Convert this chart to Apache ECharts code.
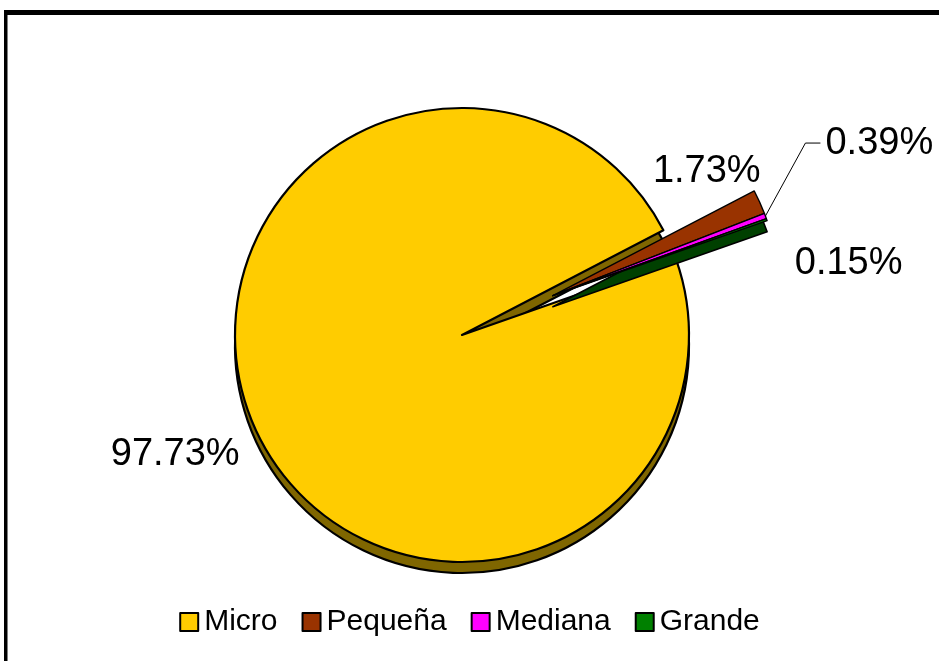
<!DOCTYPE html>
<html>
<head>
<meta charset="utf-8">
<script src="https://cdn.jsdelivr.net/npm/echarts@6/dist/echarts.min.js"></script>
<style>html,body{margin:0;padding:0;background:#fff;}#c{width:939px;height:661px;}</style>
</head>
<body>
<div id="c"></div>
<script>
// ---- data ----
const categories = ['Micro', 'Pequeña', 'Mediana', 'Grande'];
const shares = [97.73, 1.73, 0.39, 0.15];
const explodedFlags = [false, true, true, true];

// ---- styles ----
const topColors = ['#FFCC00', '#993300', '#FF00FF', '#008000'];
const sideColors = ['#7F6600', '#4C1900', '#800080', '#004000'];
const FONT = "'Liberation Sans', Arial, sans-serif";
const cx = 462, cy = 335, R = 227, depth = 11, explodeDist = 99;
const startAngle = 19.3;
// label offsets relative to the default label position [dx, dy, align, leaderLine]
const labelAdjust = [
  [-9, 29, 'right', false],
  [-4, -31, 'right', false],
  [55, -73, 'left', true],
  [23, 44, 'left', false]
];

const total = shares.reduce((a, b) => a + b, 0);
const explodedTotal = shares.reduce((a, v, i) => a + (explodedFlags[i] ? v : 0), 0);
const midDeg = startAngle + explodedTotal / total * 180;
const ecx = cx + explodeDist * Math.cos(midDeg * Math.PI / 180);
const ecy = cy - explodeDist * Math.sin(midDeg * Math.PI / 180);
const hidden = { color: 'rgba(0,0,0,0)', borderWidth: 0 };

function makeData(colors, exploded, withLabels, bw) {
  return categories.map((name, i) => {
    const visible = exploded ? explodedFlags[i] : !explodedFlags[i];
    return {
      name: name,
      value: shares[i],
      itemStyle: visible ? { color: colors[i], borderColor: '#000', borderWidth: bw } : hidden,
      label: { show: withLabels && visible },
      labelLine: { show: withLabels && visible && labelAdjust[i][3], lineStyle: { color: '#000', width: 1 } }
    };
  });
}

// side face of the exploded block: one merged sector in the colour of its lowest slice
function explodedSideData() {
  const lastIdx = explodedFlags.lastIndexOf(true);
  return [
    { name: categories[0], value: total - explodedTotal, itemStyle: hidden, label: { show: false } },
    { name: '_side', value: explodedTotal, itemStyle: { color: sideColors[lastIdx], borderColor: '#000', borderWidth: 1.6 }, label: { show: false } }
  ];
}

function labelLayout(p) {
  const a = labelAdjust[p.dataIndex];
  const r = p.labelRect;
  const ly = r.y + r.height / 2 + a[1];
  const baseX = p.align === 'right' ? r.x + r.width : r.x;
  const lx = baseX + a[0];
  const out = { x: lx, y: ly, align: a[2], verticalAlign: 'middle' };
  if (a[3] && p.labelLinePoints) {
    const p0 = p.labelLinePoints[0];
    out.labelLinePoints = [[p0[0], p0[1]], [lx - 20, ly], [lx - 5, ly]];
  }
  return out;
}

function pieSeries(center, data, withLabels, z) {
  return {
    type: 'pie',
    center: center,
    radius: [0, R],
    startAngle: startAngle,
    clockwise: true,
    avoidLabelOverlap: false,
    silent: true,
    z: z,
    emphasis: { disabled: true },
    label: {
      position: 'outside',
      formatter: p => p.value.toFixed(2) + '%',
      fontFamily: FONT,
      fontSize: 38,
      color: '#000'
    },
    labelLine: { length: 0, length2: 0, smooth: false },
    labelLayout: withLabels ? labelLayout : undefined,
    data: data
  };
}

const chart = echarts.init(document.getElementById('c'), null, { renderer: 'canvas' });
chart.setOption({
  animation: false,
  backgroundColor: '#fff',
  legend: {
    left: 'center',
    top: 602,
    icon: 'rect',
    itemWidth: 18,
    itemHeight: 18,
    itemGap: 24,
    selectedMode: false,
    textStyle: { fontFamily: FONT, fontSize: 30, color: '#000', padding: [0, 0, 0, 1] },
    data: categories.map((n, i) => ({
      name: n,
      itemStyle: { color: topColors[i], borderColor: '#000', borderWidth: 2 }
    }))
  },
  graphic: [
    { type: 'rect', shape: { x: 4, y: 10, width: 935, height: 5 }, style: { fill: '#000' }, z: 100 },
    { type: 'rect', shape: { x: 4, y: 10, width: 3.5, height: 651 }, style: { fill: '#000' }, z: 100 }
  ],
  series: [
    pieSeries([cx, cy], makeData(topColors, false, true, 2.2), true, 4),
    pieSeries([cx, cy + depth], makeData(sideColors, false, false, 2.2), false, 1),
    pieSeries([ecx, ecy + depth], explodedSideData(), false, 5),
    pieSeries([ecx, ecy], makeData(topColors, true, true, 1.4), true, 6)
  ]
});
</script>
</body>
</html>
